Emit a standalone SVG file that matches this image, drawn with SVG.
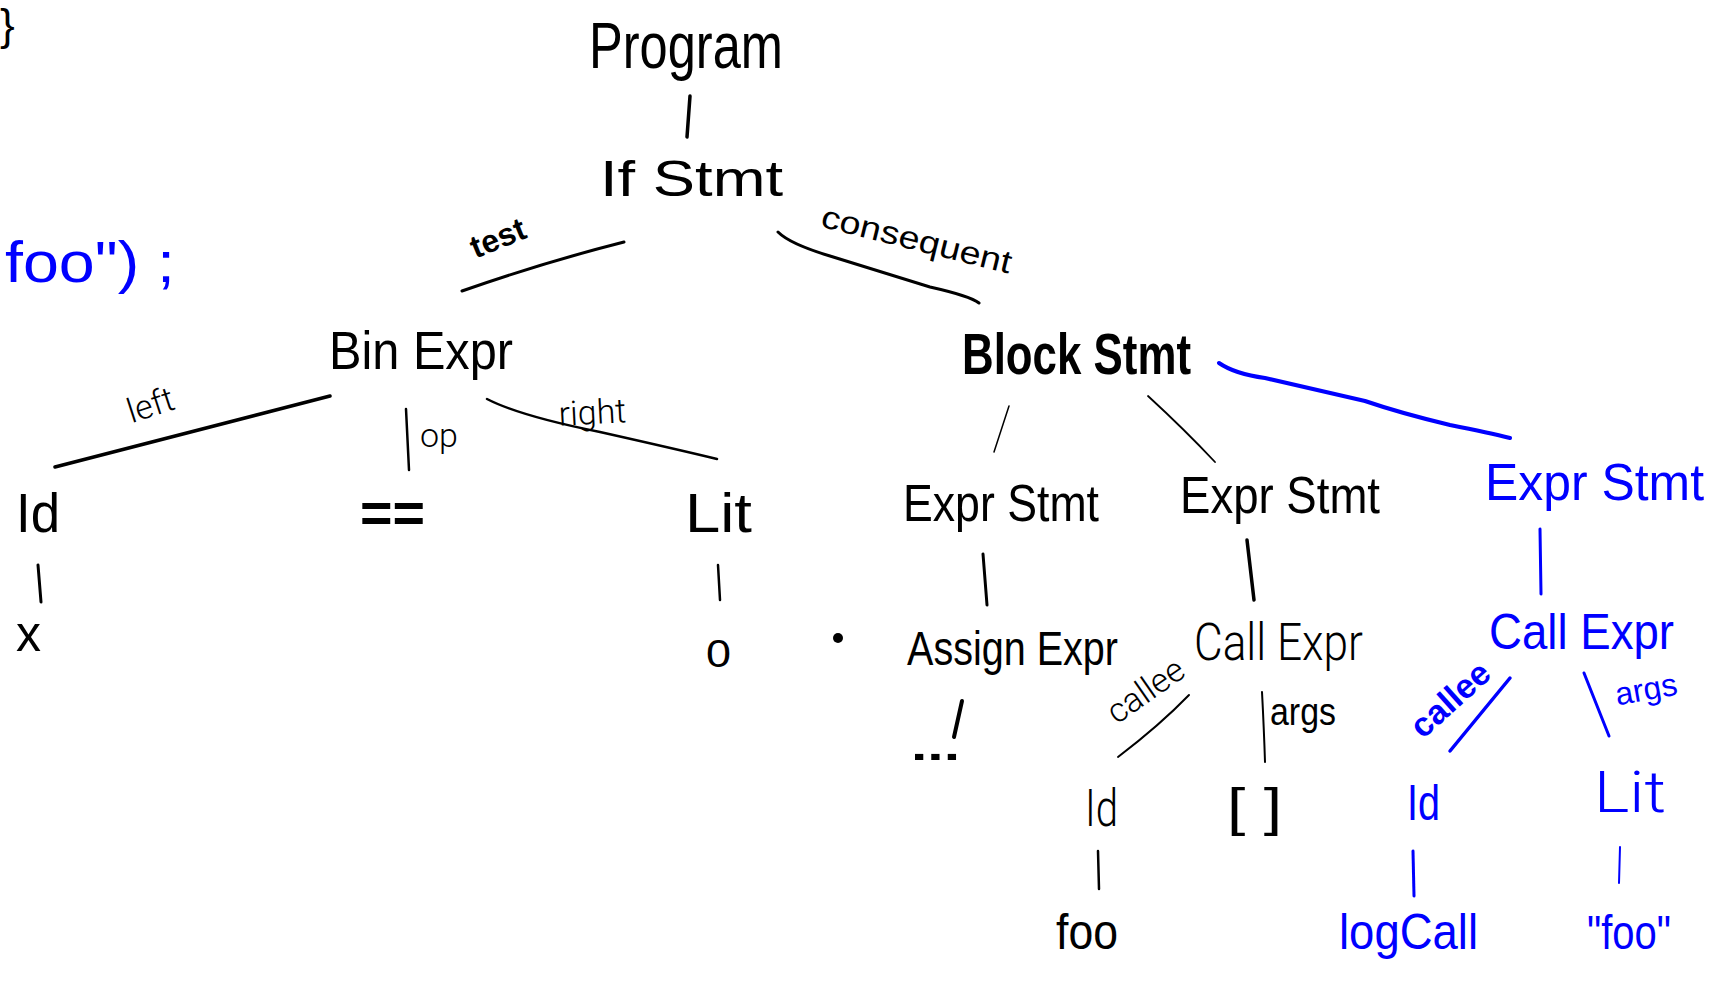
<svg xmlns="http://www.w3.org/2000/svg" width="1710" height="984" viewBox="0 0 1710 984">
<style>
text { font-family: "Liberation Sans", "DejaVu Sans", sans-serif; fill: #000; }
.b { fill: #0000ff; }
.thin { font-family: "Roboto", "Liberation Sans", sans-serif; font-weight: 300; }
.bold { font-weight: bold; }
.e { fill: none; stroke: #000; stroke-linecap: round; stroke-linejoin: round; }
.eb { fill: none; stroke: #0000ff; stroke-linecap: round; stroke-linejoin: round; }
</style>
<rect width="1710" height="984" fill="#fff"/>

<g id="connectors">
  <path class="e" d="M690,96 L687,137" stroke-width="3.5"/>
  <path class="e" d="M624,242 Q545,262 462,291" stroke-width="3"/>
  <path class="e" d="M778,232 Q790,244 830,256 L930,287 Q970,296 979,303" stroke-width="3"/>
  <path class="e" d="M330,396 L55,467" stroke-width="3.5"/>
  <path class="e" d="M406,409 L409,470" stroke-width="2.5"/>
  <path class="e" d="M487,399 Q520,416 600,432 Q680,450 717,459" stroke-width="2.5"/>
  <path class="e" d="M1009,406 L994,452" stroke-width="1.5"/>
  <path class="e" d="M1148,396 Q1185,430 1215,462" stroke-width="1.8"/>
  <path class="eb" d="M1219,363 Q1235,374 1265,378 L1365,401 Q1400,413 1450,425 Q1490,433 1510,438" stroke-width="4"/>
  <path class="e" d="M38,565 L41,602" stroke-width="3"/>
  <path class="e" d="M718,565 L720,600" stroke-width="2.5"/>
  <path class="e" d="M983,554 L987,605" stroke-width="3"/>
  <path class="e" d="M1247,540 L1254,600" stroke-width="3.5"/>
  <path class="eb" d="M1540,529 L1541,594" stroke-width="3"/>
  <path class="e" d="M962,701 L954,737" stroke-width="4"/>
  <path class="e" d="M1189,695 Q1160,725 1118,757" stroke-width="2"/>
  <path class="e" d="M1262,692 Q1264,730 1265,762" stroke-width="2"/>
  <path class="e" d="M1098,851 L1099,889" stroke-width="2.5"/>
  <path class="eb" d="M1510,678 L1450,751" stroke-width="3.5"/>
  <path class="eb" d="M1584,673 L1609,736" stroke-width="3"/>
  <path class="eb" d="M1413,851 L1414,896" stroke-width="3"/>
  <path class="eb" d="M1620,847 L1619,883" stroke-width="2"/>
</g>

<g id="edge-labels">
  <text transform="translate(502,248) rotate(-22)" font-size="32" text-anchor="middle" class="bold">test</text>
  <text transform="translate(914,250) rotate(14)" font-size="32" text-anchor="middle" textLength="195" lengthAdjust="spacingAndGlyphs">consequent</text>
  <text transform="translate(154,416) rotate(-18)" font-size="34" text-anchor="middle" class="thin">left</text>
  <text transform="translate(593,424) rotate(-3)" font-size="34" text-anchor="middle" class="thin">right</text>
  <text x="420" y="447" font-size="34" class="thin">op</text>
  <text transform="translate(1152,700) rotate(-35)" font-size="34" text-anchor="middle" class="thin">callee</text>
  <text x="1270" y="725" font-size="38" textLength="66" lengthAdjust="spacingAndGlyphs">args</text>
  <text transform="translate(1458,708) rotate(-42)" font-size="34" text-anchor="middle" class="b bold">callee</text>
  <text transform="translate(1648,700) rotate(-10)" font-size="32" text-anchor="middle" class="b">args</text>
</g>

<g id="n-brace"><text x="0" y="40" font-size="44">}</text></g>
<g id="n-code"><text x="5" y="282" font-size="58" class="b" textLength="170" lengthAdjust="spacingAndGlyphs">foo") ;</text></g>

<g id="n-program"><text x="589" y="68" font-size="64" textLength="194" lengthAdjust="spacingAndGlyphs">Program</text></g>
<g id="n-ifstmt"><text x="600" y="196" font-size="50" textLength="183" lengthAdjust="spacingAndGlyphs">If Stmt</text></g>
<g id="n-binexpr"><text x="329" y="369" font-size="54" textLength="184" lengthAdjust="spacingAndGlyphs">Bin Expr</text></g>
<g id="n-blockstmt"><text x="962" y="374" font-size="58" class="bold" textLength="229" lengthAdjust="spacingAndGlyphs">Block Stmt</text></g>

<g id="n-id1"><text x="16" y="532" font-size="56" textLength="44" lengthAdjust="spacingAndGlyphs">Id</text></g>
<g id="n-x"><text x="16" y="651" font-size="52" textLength="25" lengthAdjust="spacingAndGlyphs">x</text></g>
<g id="n-eq"><text x="360" y="532" font-size="56" class="bold" textLength="65" lengthAdjust="spacingAndGlyphs">==</text></g>
<g id="n-lit1"><text x="685" y="532" font-size="56" textLength="67" lengthAdjust="spacingAndGlyphs">Lit</text></g>
<g id="n-zero"><text x="706" y="667" font-size="38" textLength="25" lengthAdjust="spacingAndGlyphs">0</text></g>
<g id="n-dot"><circle cx="838" cy="638" r="5" fill="#000"/></g>

<g id="n-exprstmt1"><text x="903" y="521" font-size="52" textLength="196" lengthAdjust="spacingAndGlyphs">Expr Stmt</text></g>
<g id="n-exprstmt2"><text x="1180" y="513" font-size="52" textLength="200" lengthAdjust="spacingAndGlyphs">Expr Stmt</text></g>
<g id="n-exprstmt3"><text x="1485" y="500" font-size="52" class="b" textLength="219" lengthAdjust="spacingAndGlyphs">Expr Stmt</text></g>

<g id="n-assignexpr"><text x="907" y="665" font-size="49" textLength="211" lengthAdjust="spacingAndGlyphs">Assign Expr</text></g>
<g id="n-ellipsis"><text x="911" y="760" font-size="40" class="bold" textLength="49" lengthAdjust="spacingAndGlyphs">...</text></g>
<g id="n-callexpr1"><text x="1194" y="660" font-size="52" class="thin" textLength="169" lengthAdjust="spacingAndGlyphs">Call Expr</text></g>
<g id="n-id2"><text x="1085" y="826" font-size="52" class="thin" textLength="33" lengthAdjust="spacingAndGlyphs">Id</text></g>
<g id="n-foo"><text x="1056" y="949" font-size="50" textLength="62" lengthAdjust="spacingAndGlyphs">foo</text></g>
<g id="n-brackets"><text x="1227" y="825" font-size="51" textLength="55" lengthAdjust="spacingAndGlyphs">[ ]</text></g>

<g id="n-callexpr2"><text x="1489" y="649" font-size="50" class="b" textLength="185" lengthAdjust="spacingAndGlyphs">Call Expr</text></g>
<g id="n-id3"><text x="1407" y="820" font-size="50" class="b" textLength="33" lengthAdjust="spacingAndGlyphs">Id</text></g>
<g id="n-logcall"><text x="1339" y="949" font-size="50" class="b" textLength="139" lengthAdjust="spacingAndGlyphs">logCall</text></g>
<g id="n-lit2"><text x="1594" y="812" font-size="58" class="b thin" textLength="72" lengthAdjust="spacingAndGlyphs">Lit</text></g>
<g id="n-foostr"><text x="1587" y="949" font-size="48" class="b" textLength="84" lengthAdjust="spacingAndGlyphs">"foo"</text></g>
</svg>
